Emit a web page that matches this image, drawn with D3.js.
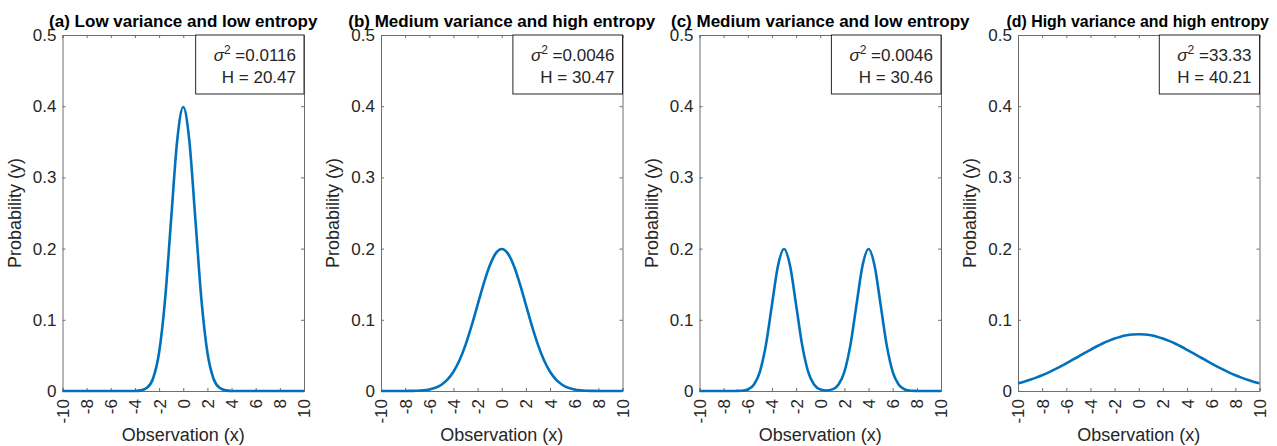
<!DOCTYPE html>
<html>
<head>
<meta charset="utf-8">
<script src="https://cdn.jsdelivr.net/npm/d3@7"></script>
<style>
  body { margin: 0; background: #fff; }
  svg { font-family: "Liberation Sans", Arial, Helvetica, sans-serif; }
</style>
</head>
<body>
<script>
const width = 1277, height = 446;

// sample positions along x
const xSamples = [-10, -9.5, -9, -8.5, -8, -7.5, -7, -6.5, -6, -5.5, -5, -4.5, -4, -3.5, -3, -2.5, -2, -1.5, -1, -0.5,
    0, 0.5, 1, 1.5, 2, 2.5, 3, 3.5, 4, 4.5, 5, 5.5, 6, 6.5, 7, 7.5, 8, 8.5, 9, 9.5, 10];

const lowVarLowEnt = [0, 0, 0, 0, 0, 0, 0, 0, 0, 0, 0, 0, 0.0001, 0.0009, 0.0044, 0.0175, 0.0540, 0.1295, 0.2420, 0.3521,
    0.3989, 0.3521, 0.2420, 0.1295, 0.0540, 0.0175, 0.0044, 0.0009, 0.0001, 0, 0, 0, 0, 0, 0, 0, 0, 0, 0, 0, 0];

const medVarHighEnt = [0, 0, 0, 0, 0.0001, 0.0002, 0.0004, 0.0010, 0.0022, 0.0045, 0.0088, 0.0159, 0.0270, 0.0431, 0.0648, 0.0913, 0.1210, 0.1506, 0.1760, 0.1933,
    0.1995, 0.1933, 0.1760, 0.1506, 0.1210, 0.0913, 0.0648, 0.0431, 0.0270, 0.0159, 0.0088, 0.0045, 0.0022, 0.0010, 0.0004, 0.0002, 0.0001, 0, 0, 0, 0];

const medVarLowEnt = [0, 0, 0, 0, 0, 0, 0.0001, 0.0004, 0.0022, 0.0088, 0.0270, 0.0648, 0.1210, 0.1760, 0.1995, 0.1760, 0.1210, 0.0648, 0.0270, 0.0088,
    0.0023, 0.0008, 0.0023, 0.0088, 0.0270, 0.0648, 0.1210, 0.1760, 0.1995, 0.1760, 0.1210, 0.0648, 0.0270, 0.0088, 0.0022, 0.0004, 0.0001, 0, 0, 0, 0];

const highVarHighEnt = [0.0108, 0.0131, 0.0158, 0.0188, 0.0222, 0.0259, 0.0300, 0.0343, 0.0388, 0.0436, 0.0484, 0.0532, 0.0579, 0.0625, 0.0667, 0.0704, 0.0737, 0.0763, 0.0782, 0.0794,
    0.0798, 0.0794, 0.0782, 0.0763, 0.0737, 0.0704, 0.0667, 0.0625, 0.0579, 0.0532, 0.0484, 0.0436, 0.0388, 0.0343, 0.0300, 0.0259, 0.0222, 0.0188, 0.0158, 0.0131, 0.0108];

const titles = ["(a) Low variance and low entropy", "(b) Medium variance and high entropy",
    "(c) Medium variance and low entropy", "(d) High variance and high entropy"];
const variances = ["0.0116", "0.0046", "0.0046", "33.33"];
const entropies = ["20.47", "30.47", "30.46", "40.21"];
const series = [lowVarLowEnt, medVarHighEnt, medVarLowEnt, highVarHighEnt];

const xTicks = [-10, -8, -6, -4, -2, 0, 2, 4, 6, 8, 10];
const xTickLabels = ["-10", "-8", "-6", "-4", "-2", "0", "2", "4", "6", "8", "10"];
const yTicks = [0, 0.1, 0.2, 0.3, 0.4, 0.5];
const yTickLabels = ["0", "0.1", "0.2", "0.3", "0.4", "0.5"];

const panelLeft = 62.5, panelStep = 318.5, panelW = 241.5;
const axTop = 35, axBottom = 391;
const axisColor = "#6e6e6e", textColor = "#262626", lineColor = "#0072BD";

const svg = d3.select("body")
    .append("svg")
    .attr("width", width)
    .attr("height", height)

const x = d3.scaleLinear().domain([-10, 10]).range([0, panelW])
const y = d3.scaleLinear().domain([0, 0.5]).range([axBottom, axTop])

series.forEach((vals, i) => {
    const left = panelLeft + i * panelStep
    const g = svg.append("g")
        .attr("transform", "translate(" + left + ",0)")

    // axes, MATLAB style: ticks inside, on all four sides
    const xAxisB = g.append("g")
        .attr("transform", "translate(0," + axBottom + ")")
        .call(d3.axisBottom(x).tickValues(xTicks).tickSize(-3).tickFormat((d, k) => xTickLabels[k]))
    xAxisB.selectAll("text")
        .attr("transform", "rotate(-90)")
        .attr("text-anchor", "end")
        .attr("x", -8)
        .attr("y", 0)
        .attr("dy", "0.35em")
    g.append("g")
        .attr("transform", "translate(0," + axTop + ")")
        .call(d3.axisTop(x).tickValues(xTicks).tickSize(-3).tickFormat(""))
    g.append("g")
        .call(d3.axisLeft(y).tickValues(yTicks).tickSize(-3).tickPadding(6).tickFormat((d, k) => yTickLabels[k]))
    g.append("g")
        .attr("transform", "translate(" + panelW + ",0)")
        .call(d3.axisRight(y).tickValues(yTicks).tickSize(-3).tickFormat(""))

    g.selectAll(".domain, .tick line").attr("stroke", axisColor)
    g.selectAll(".tick text")
        .attr("fill", textColor)
        .style("font-size", "17px")

    // curve
    g.append("path")
        .datum(xSamples.map((xv, k) => [xv, vals[k]]))
        .attr("fill", "none")
        .attr("stroke", lineColor)
        .attr("stroke-width", 2.6)
        .attr("stroke-linejoin", "round")
        .attr("d", d3.line().x(d => x(d[0])).y(d => y(d[1])).curve(d3.curveMonotoneX))

    // title (shrink it a little if it would run off the page)
    const title = g.append("text")
        .attr("x", panelW / 2)
        .attr("y", 27)
        .attr("text-anchor", "middle")
        .attr("font-weight", "bold")
        .attr("fill", "#000")
        .style("font-size", "17px")
        .text(titles[i])
    const tl = title.node().getComputedTextLength()
    if (left + panelW / 2 + tl / 2 > width - 5) {
        const start = panelW / 2 - tl / 2 + 8
        const room = width - 8 - left - start
        title.attr("text-anchor", "start")
            .attr("x", start)
            .style("font-size", (17 * room / tl).toFixed(2) + "px")
    }

    // axis labels
    g.append("text")
        .attr("transform", "translate(-42," + ((axTop + axBottom) / 2) + ") rotate(-90)")
        .attr("text-anchor", "middle")
        .attr("fill", textColor)
        .style("font-size", "18px")
        .text("Probability (y)")
    g.append("text")
        .attr("x", panelW / 2)
        .attr("y", 441)
        .attr("text-anchor", "middle")
        .attr("fill", textColor)
        .style("font-size", "18px")
        .text("Observation (x)")

    // annotation box
    const ann = g.append("g")
    const t1 = ann.append("text")
        .attr("x", panelW - 8)
        .attr("y", 61)
        .attr("text-anchor", "end")
        .attr("fill", textColor)
        .style("font-size", "17px")
    t1.append("tspan").attr("font-style", "italic").text("σ")
    t1.append("tspan").attr("dy", -7).style("font-size", "12px").text("2")
    t1.append("tspan").attr("dy", 7).text(" =" + variances[i])
    const t2 = ann.append("text")
        .attr("x", panelW - 8)
        .attr("y", 83)
        .attr("text-anchor", "end")
        .attr("fill", textColor)
        .style("font-size", "17px")
        .text("H = " + entropies[i])
    const w = Math.max(t1.node().getComputedTextLength(), t2.node().getComputedTextLength()) + 26
    ann.insert("rect", "text")
        .attr("x", panelW - w)
        .attr("y", axTop)
        .attr("width", w)
        .attr("height", 59)
        .attr("fill", "#fff")
        .attr("stroke", textColor)
        .attr("stroke-width", 1)
})
</script>
</body>
</html>
